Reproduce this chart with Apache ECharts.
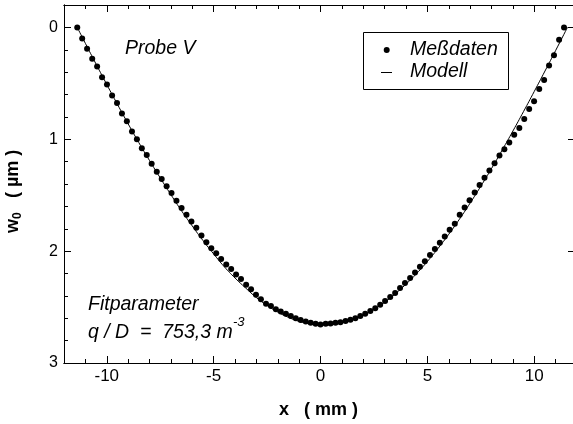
<!DOCTYPE html>
<html>
<head>
<meta charset="utf-8">
<script src="https://cdn.jsdelivr.net/npm/echarts@6/dist/echarts.min.js"></script>
<style>
  html, body { margin: 0; padding: 0; background: #fff; }
  #chart { width: 573px; height: 424px; }
</style>
</head>
<body>
<div id="chart"></div>
<script>
// Measured profile (x in mm, w0 in µm)
const measX = [
  -11.38, -11.15, -10.92, -10.68, -10.45, -10.22, -9.99, -9.75, -9.52, -9.29,
  -9.06, -8.82, -8.59, -8.36, -8.13, -7.90, -7.66, -7.43, -7.20, -6.97,
  -6.74, -6.50, -6.27, -6.04, -5.81, -5.57, -5.34, -5.11, -4.88, -4.65,
  -4.41, -4.18, -3.95, -3.72, -3.48, -3.25, -3.02, -2.79, -2.55, -2.32,
  -2.09, -1.86, -1.62, -1.39, -1.16, -0.93, -0.69, -0.46, -0.23, 0.00,
  0.24, 0.47, 0.70, 0.93, 1.17, 1.40, 1.63, 1.86, 2.09, 2.33,
  2.56, 2.79, 3.02, 3.26, 3.49, 3.72, 3.95, 4.19, 4.42, 4.65,
  4.88, 5.12, 5.35, 5.58, 5.81, 6.04, 6.28, 6.51, 6.74, 6.97,
  7.21, 7.44, 7.67, 7.90, 8.14, 8.37, 8.60, 8.83, 9.06, 9.30,
  9.53, 9.76, 9.99, 10.23, 10.46, 10.69, 10.92, 11.16, 11.39
];
const measW = [
  0.00, 0.10, 0.19, 0.28, 0.35, 0.445, 0.51, 0.61, 0.675, 0.77,
  0.84, 0.93, 1.00, 1.08, 1.14, 1.22, 1.29, 1.355, 1.42, 1.48,
  1.55, 1.615, 1.675, 1.735, 1.79, 1.86, 1.92, 1.975, 2.02, 2.07,
  2.12, 2.16, 2.21, 2.25, 2.30, 2.34, 2.39, 2.43, 2.47, 2.49,
  2.52, 2.54, 2.56, 2.58, 2.60, 2.615, 2.63, 2.64, 2.65, 2.655,
  2.65, 2.646, 2.64, 2.635, 2.625, 2.613, 2.60, 2.58, 2.56, 2.535,
  2.51, 2.48, 2.445, 2.41, 2.375, 2.33, 2.285, 2.24, 2.19, 2.14,
  2.09, 2.035, 1.98, 1.925, 1.87, 1.81, 1.755, 1.675, 1.61, 1.545,
  1.475, 1.41, 1.345, 1.28, 1.215, 1.145, 1.09, 1.03, 0.96, 0.90,
  0.82, 0.73, 0.66, 0.55, 0.47, 0.34, 0.25, 0.11, 0.00
];

// Fitted model curve
const modelX = [
  -11.38, -11.0, -10.5, -10.0, -9.5, -9.0, -8.5, -8.0, -7.5, -7.0,
  -6.5, -6.0, -5.5, -5.0, -4.5, -4.0, -3.5, -3.0, -2.5, -2.0,
  -1.5, -1.0, -0.5, 0.0, 0.5, 1.0, 1.5, 2.0, 2.5, 3.0,
  3.5, 4.0, 4.5, 5.0, 5.5, 6.0, 6.5, 7.0, 7.5, 8.0,
  8.5, 9.0, 9.5, 10.0, 10.5, 11.0, 11.55
];
const modelW = [
  0.00, 0.143, 0.328, 0.510, 0.688, 0.862, 1.030, 1.190, 1.345, 1.495,
  1.640, 1.775, 1.905, 2.025, 2.140, 2.240, 2.330, 2.415, 2.485, 2.545,
  2.592, 2.628, 2.651, 2.660, 2.656, 2.640, 2.612, 2.571, 2.520, 2.456,
  2.381, 2.295, 2.199, 2.092, 1.975, 1.849, 1.714, 1.570, 1.419, 1.261,
  1.096, 0.926, 0.751, 0.572, 0.390, 0.206, 0.00
];

// Axis ticks and labels
const xMajor = [-10, -5, 0, 5, 10];
const xMinor = [-11, -9, -8, -7, -6, -4, -3, -2, -1, 1, 2, 3, 4, 6, 7, 8, 9, 11];
const yMajor = [0, 1, 2, 3];
const yMinor = [0.2, 0.4, 0.6, 0.8, 1.2, 1.4, 1.6, 1.8, 2.2, 2.4, 2.6, 2.8];
const yRightMajor = [0, 1, 2];

const FONT = '"Liberation Sans", Arial, Helvetica, sans-serif';
const X_MIN = -12, X_MAX = 11.81, Y_MIN = -0.2, Y_MAX = 3;

function zip(a, b) { return a.map((v, i) => [v, b[i]]); }

function xAxisDef(pos, ticks, len, labels) {
  return {
    type: 'value', position: pos, min: X_MIN, max: X_MAX,
    axisLine: { show: true, onZero: false, lineStyle: { color: '#000', width: 1 } },
    axisTick: { show: true, inside: true, length: len, customValues: ticks,
                lineStyle: { color: '#000', width: 1 } },
    axisLabel: labels ? { show: true, customValues: ticks, color: '#000',
                          fontSize: 17, fontFamily: FONT, margin: 5 } : { show: false },
    splitLine: { show: false }
  };
}
function yAxisDef(pos, ticks, len, labels) {
  return {
    type: 'value', position: pos, min: Y_MIN, max: Y_MAX, inverse: true,
    axisLine: { show: true, onZero: false, lineStyle: { color: '#000', width: 1 } },
    axisTick: { show: true, inside: true, length: len, customValues: ticks,
                lineStyle: { color: '#000', width: 1 } },
    axisLabel: labels ? { show: true, customValues: ticks, color: '#000',
                          fontSize: 16, fontFamily: FONT, margin: 6 } : { show: false },
    splitLine: { show: false }
  };
}

const chart = echarts.init(document.getElementById('chart'), null, { renderer: 'canvas' });

const xBottom = xAxisDef('bottom', xMajor, 7, true);
xBottom.name = 'x   ( mm )';
xBottom.nameLocation = 'middle';
xBottom.nameGap = 38;
xBottom.nameTextStyle = { color: '#000', fontWeight: 'bold', fontSize: 18, fontFamily: FONT };

const TXT = 'italic 19.5px ' + FONT;

chart.setOption({
  animation: false,
  backgroundColor: '#fff',
  grid: { left: 64, top: 5, right: -1, bottom: 57, containLabel: false },
  xAxis: [
    xBottom,
    xAxisDef('bottom', xMinor, 4, false),
    xAxisDef('top', xMajor, 7, false),
    xAxisDef('top', xMinor, 4, false)
  ],
  yAxis: [
    yAxisDef('left', yMajor, 7, true),
    yAxisDef('left', yMinor, 4, false),
    yAxisDef('right', yRightMajor, 5, false)
  ],
  series: [
    {
      name: 'Modell', type: 'line', xAxisIndex: 0, yAxisIndex: 0,
      data: zip(modelX, modelW), smooth: true, symbol: 'none',
      lineStyle: { color: '#000', width: 1 }, z: 2
    },
    {
      name: 'Meßdaten', type: 'scatter', xAxisIndex: 0, yAxisIndex: 0,
      data: zip(measX, measW), symbol: 'circle', symbolSize: 6,
      itemStyle: { color: '#000', opacity: 1 }, z: 3
    }
  ],
  graphic: [
    // y-axis title, rotated
    {
      type: 'group', x: 13, y: 186, rotation: Math.PI / 2,
      children: [
        { type: 'text', x: -47, y: 0,
          style: { text: 'w', fill: '#000', font: 'bold 18px ' + FONT, textAlign: 'left', textVerticalAlign: 'middle' } },
        { type: 'text', x: -33, y: 5,
          style: { text: '0', fill: '#000', font: 'bold 12px ' + FONT, textAlign: 'left', textVerticalAlign: 'middle' } },
        { type: 'text', x: -12, y: 0,
          style: { text: '( µm )', fill: '#000', font: 'bold 18px ' + FONT, textAlign: 'left', textVerticalAlign: 'middle' } }
      ]
    },
    { type: 'text', x: 125, y: 48.5,
      style: { text: 'Probe V', fill: '#000', font: TXT, textAlign: 'left', textVerticalAlign: 'middle' } },
    { type: 'text', x: 88, y: 304.5,
      style: { text: 'Fitparameter', fill: '#000', font: TXT, textAlign: 'left', textVerticalAlign: 'middle' } },
    { type: 'text', x: 88, y: 333,
      style: { text: 'q / D  =  753,3 m', fill: '#000', font: TXT, textAlign: 'left', textVerticalAlign: 'middle' } },
    { type: 'text', x: 233, y: 322,
      style: { text: '-3', fill: '#000', font: 'italic 13px ' + FONT, textAlign: 'left', textVerticalAlign: 'middle' } },
    // legend
    { type: 'rect', shape: { x: 363.5, y: 32.5, width: 145, height: 57 },
      style: { fill: '#fff', stroke: '#000', lineWidth: 1 }, z: 10 },
    { type: 'circle', shape: { cx: 386.7, cy: 50, r: 3 }, style: { fill: '#000' }, z: 11 },
    { type: 'line', shape: { x1: 381, y1: 72.5, x2: 392, y2: 72.5 }, style: { stroke: '#000', lineWidth: 1 }, z: 11 },
    { type: 'text', x: 410, y: 50, z: 11,
      style: { text: 'Meßdaten', fill: '#000', font: TXT, textAlign: 'left', textVerticalAlign: 'middle' } },
    { type: 'text', x: 410, y: 72, z: 11,
      style: { text: 'Modell', fill: '#000', font: TXT, textAlign: 'left', textVerticalAlign: 'middle' } }
  ]
});
</script>
</body>
</html>
